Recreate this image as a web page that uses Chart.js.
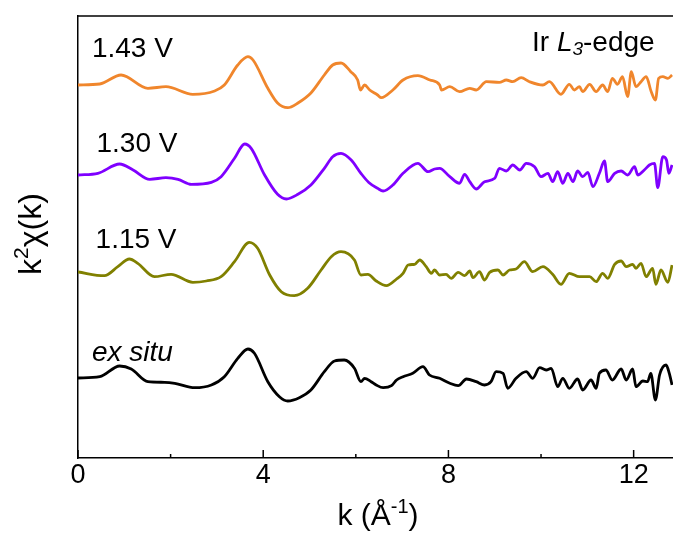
<!DOCTYPE html>
<html>
<head>
<meta charset="utf-8">
<script src="https://cdn.jsdelivr.net/npm/chart.js@4"></script>
<style>
html,body{margin:0;padding:0;background:#fff;}
#wrap{width:673px;height:537px;position:relative;}
</style>
</head>
<body>
<div id="wrap"><canvas id="c" width="673" height="537"></canvas></div>
<script>
// ---- data (k in 1/Å, k²χ(k) in arbitrary units relative to each curve's own baseline) ----
const seriesNames = ["1.43 V", "1.30 V", "1.15 V", "ex situ"];
const seriesColors = ["#F0862C", "#7F00FF", "#808000", "#000000"];
const seriesOffsets = [29.3, 20.3, 10.6, 0];

const k143 = [0,0.47,0.93,1.51,1.9,2.48,2.95,3.16,3.45,3.67,3.78,4.1,4.31,4.53,4.75,5.03,5.32,5.5,5.68,5.89,6.04,6.1,6.19,6.3,6.47,6.55,6.8,7.02,7.34,7.6,7.81,7.85,8.03,8.24,8.46,8.6,8.82,9.1,9.25,9.39,9.57,9.75,10.04,10.18,10.43,10.61,10.72,10.83,10.9,11.05,11.19,11.33,11.44,11.54,11.65,11.76,11.87,11.95,12.05,12.16,12.27,12.38,12.47,12.54,12.63,12.74,12.83];
const v143 = [0,0.1,1.0,-0.33,-0.17,-0.93,-0.6,0,2.0,2.83,2.5,-0.33,-1.8,-2.27,-1.8,-0.8,1.0,2.0,2.2,1.33,0.5,-0.5,0,-0.5,-1.0,-1.27,-0.5,0.5,0.93,0.5,0,-0.5,-0.17,-0.67,-0.33,-0.5,0.33,0.27,0.5,0.33,0.73,0.33,0,0.33,-0.93,0.07,-0.5,-0.17,-0.67,0.07,-0.67,0,-0.67,0.67,0.07,0.83,-1.17,1.33,-0.17,0.33,0.83,-0.67,-1.5,0.67,0.83,0.67,1.0];

const k130 = [0,0.43,0.9,1.19,1.55,1.9,2.16,2.45,2.88,3.09,3.38,3.6,3.74,4.03,4.31,4.5,4.75,5.03,5.32,5.5,5.68,5.9,6.11,6.28,6.47,6.59,6.8,7.02,7.34,7.56,7.7,7.81,8.03,8.24,8.35,8.46,8.6,8.78,9.0,9.1,9.25,9.39,9.54,9.68,9.86,10.0,10.15,10.25,10.36,10.47,10.58,10.69,10.79,10.9,11.01,11.12,11.26,11.37,11.44,11.59,11.73,11.87,12.02,12.09,12.23,12.34,12.45,12.52,12.63,12.71,12.76,12.83];
const v130 = [0,0.17,1.1,0.5,-0.43,-0.27,-0.43,-0.93,-0.73,-0.17,1.67,3.1,2.67,0,-1.93,-2.4,-1.93,-1.0,0.67,1.83,2.17,1.5,0.17,-0.75,-1.33,-1.6,-1.0,0.17,1.17,0.33,0.6,0.67,-0.17,-0.83,0.07,-0.67,-1.4,-0.67,-0.33,0.67,0.4,1.0,0.5,1.17,0.83,-0.17,0.17,-0.67,0.33,-0.83,0.17,-0.67,0.4,-0.17,0.27,-1.17,0.17,1.4,-0.67,0.17,0.4,0,0.83,0,0.5,1.0,1.17,-1.27,1.83,1.5,0.17,1.0];

const k115 = [0,0.57,0.86,1.11,1.29,1.65,2.01,2.48,2.77,3.09,3.38,3.7,3.88,4.14,4.39,4.67,4.96,5.25,5.47,5.68,5.97,6.11,6.26,6.44,6.66,6.88,7.02,7.13,7.27,7.38,7.52,7.63,7.7,7.81,7.95,8.06,8.21,8.35,8.46,8.53,8.67,8.78,8.89,9.07,9.18,9.32,9.46,9.64,9.82,10.04,10.25,10.43,10.61,10.83,11.05,11.19,11.33,11.44,11.59,11.73,11.84,11.98,12.05,12.16,12.27,12.41,12.48,12.59,12.74,12.83];
const v115 = [0,-0.37,0.53,1.3,0.87,-0.47,-0.23,-1.03,-0.9,-0.47,1.03,2.97,2.37,-0.3,-1.97,-2.37,-1.63,0.2,1.53,2.03,1.2,-0.3,-0.23,-0.9,-1.37,-0.7,-0.13,0.7,0.77,1.2,0.53,-0.13,0.2,-0.3,-0.23,-0.63,-0.03,-0.37,0.1,-0.57,0.03,-0.8,-0.03,0.2,-0.3,0.2,0.3,1.03,0.03,0.53,-0.23,-1.23,-0.13,-0.47,-0.47,-0.97,-0.13,-0.63,0.77,1.1,0.53,0.77,0.37,0.87,-0.47,0.37,-1.23,0.2,-1.03,0.7];

const kEx = [0,0.47,0.9,1.15,1.51,1.87,2.09,2.52,2.88,3.16,3.45,3.67,3.81,4.1,4.35,4.53,4.78,5.03,5.32,5.54,5.75,5.97,6.11,6.19,6.33,6.44,6.59,6.77,6.88,7.02,7.23,7.45,7.59,7.81,8.03,8.21,8.39,8.6,8.78,8.92,9.03,9.18,9.28,9.46,9.68,9.82,9.97,10.11,10.22,10.36,10.47,10.61,10.79,10.9,11.08,11.19,11.26,11.4,11.54,11.73,11.84,11.98,12.05,12.2,12.3,12.37,12.47,12.56,12.7,12.77,12.83];
const vEx = [0,0.13,1.2,0.9,-0.37,-0.43,-0.53,-0.97,-0.7,0.13,1.97,2.9,2.47,-0.37,-1.87,-2.3,-1.97,-1.2,0.63,1.7,1.8,0.97,-0.37,-0.03,-0.37,-0.7,-0.97,-0.77,-0.2,0.13,0.47,1.13,0.3,-0.03,-0.53,-0.77,-0.1,-0.37,-0.7,-0.37,0.63,0.47,-1.03,-0.03,0.63,-0.03,1.03,0.8,0.97,-0.87,-0.03,-1.03,-0.1,-1.2,-0.2,-1.03,0.47,0.8,-0.2,0.9,-0.2,0.9,-0.87,-0.3,-0.37,0.47,-2.2,0.3,1.3,0.47,-0.7];

const xMajorTicks = [0, 4, 8, 12];
const xMinorTicks = [2, 6, 10];
const xMin = 0, xMax = 12.85;
const yMin = -8, yMax = 36.2;

const kArrays = [k143, k130, k115, kEx];
const vArrays = [v143, v130, v115, vEx];

// label anchor positions in data coordinates (k, y)
const labelK = [0.3, 0.4, 0.38, 0.3];
const labelY = [32.9, 23.4, 13.8, 2.5];

const datasets = seriesNames.map((name, i) => ({
  label: name,
  data: kArrays[i].map((k, j) => ({x: k, y: vArrays[i][j] + seriesOffsets[i]})),
  borderColor: seriesColors[i],
  borderWidth: 2.8,
  pointRadius: 0,
  fill: false,
  cubicInterpolationMode: 'monotone'
}));

const FONT = "'Liberation Sans', Arial, Helvetica, sans-serif";

const decor = {
  id: 'decor',
  afterDraw(chart) {
    const ctx = chart.ctx;
    const xs = chart.scales.x, ys = chart.scales.y;
    const ca = chart.chartArea;
    ctx.save();
    // top border
    ctx.strokeStyle = '#000';
    ctx.lineWidth = 1.5;
    ctx.beginPath();
    ctx.moveTo(ca.left, ca.top);
    ctx.lineTo(673, ca.top);
    ctx.stroke();
    // inward ticks
    xMajorTicks.forEach(v => {
      const p = xs.getPixelForValue(v);
      ctx.beginPath(); ctx.moveTo(p, ca.bottom); ctx.lineTo(p, ca.bottom - 8); ctx.stroke();
    });
    xMinorTicks.forEach(v => {
      const p = xs.getPixelForValue(v);
      ctx.beginPath(); ctx.moveTo(p, ca.bottom); ctx.lineTo(p, ca.bottom - 4); ctx.stroke();
    });
    // series labels
    ctx.fillStyle = '#000';
    ctx.textBaseline = 'middle';
    ctx.textAlign = 'left';
    seriesNames.forEach((n, i) => {
      ctx.font = (i === 3 ? 'italic ' : '') + '28px ' + FONT;
      ctx.fillText(n, xs.getPixelForValue(labelK[i]), ys.getPixelForValue(labelY[i]));
    });
    // Ir L3-edge
    let x = 532, y = 43;
    ctx.font = '28px ' + FONT;
    ctx.fillText('Ir ', x, y); x += ctx.measureText('Ir ').width;
    ctx.font = 'italic 28px ' + FONT;
    ctx.fillText('L', x, y); x += ctx.measureText('L').width;
    ctx.font = 'italic 19px ' + FONT;
    ctx.fillText('3', x, y + 7); x += ctx.measureText('3').width;
    ctx.font = '28px ' + FONT;
    ctx.fillText('-edge', x, y);
    // x title: k (Å^-1)
    const p1 = 'k (Å', p2 = '-1', p3 = ')';
    ctx.font = '30px ' + FONT; const w1 = ctx.measureText(p1).width, w3 = ctx.measureText(p3).width;
    ctx.font = '20px ' + FONT; const w2 = ctx.measureText(p2).width;
    let tx = 378 - (w1 + w2 + w3) / 2, ty = 517;
    ctx.font = '30px ' + FONT; ctx.fillText(p1, tx, ty); tx += w1;
    ctx.font = '20px ' + FONT; ctx.fillText(p2, tx, ty - 10); tx += w2;
    ctx.font = '30px ' + FONT; ctx.fillText(p3, tx, ty);
    // y title: k^2 χ(k)
    ctx.translate(32, 234);
    ctx.rotate(-Math.PI / 2);
    const q1 = 'k', q2 = '2', q3 = 'χ(k)';
    ctx.font = '32px ' + FONT; const u1 = ctx.measureText(q1).width, u3 = ctx.measureText(q3).width;
    ctx.font = '21px ' + FONT; const u2 = ctx.measureText(q2).width;
    let rx = -(u1 + u2 + u3) / 2;
    ctx.font = '32px ' + FONT; ctx.fillText(q1, rx, 0); rx += u1;
    ctx.font = '21px ' + FONT; ctx.fillText(q2, rx, -10); rx += u2;
    ctx.font = '32px ' + FONT; ctx.fillText(q3, rx, 0);
    ctx.restore();
  }
};

new Chart(document.getElementById('c'), {
  type: 'line',
  data: { datasets },
  options: {
    responsive: false,
    animation: false,
    devicePixelRatio: 1,
    layout: { padding: { left: 0, right: 0, top: 16, bottom: 0 } },
    plugins: { legend: { display: false }, tooltip: { enabled: false } },
    scales: {
      x: {
        type: 'linear', min: xMin, max: xMax,
        grid: { display: false, drawTicks: false },
        border: { display: true, color: '#000', width: 1.5 },
        ticks: {
          stepSize: 4, includeBounds: false, padding: 1,
          color: '#000', font: { size: 27, family: FONT },
          maxRotation: 0, autoSkip: false
        },
        afterFit(s) { s.height = 537 - 458; }
      },
      y: {
        type: 'linear', min: yMin, max: yMax,
        grid: { display: false, drawTicks: false },
        border: { display: true, color: '#000', width: 1.5 },
        ticks: { display: false },
        afterFit(s) { s.width = 78; }
      }
    }
  },
  plugins: [decor]
});
</script>
</body>
</html>
